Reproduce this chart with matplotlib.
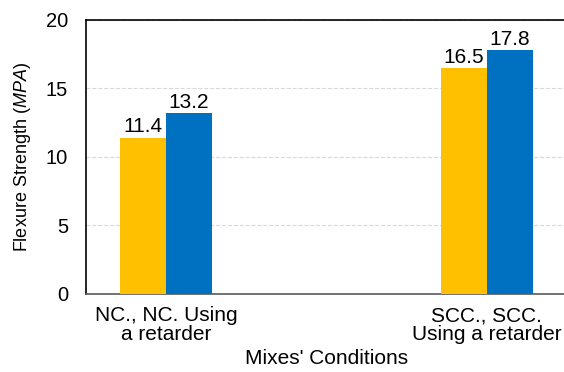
import matplotlib.pyplot as plt
import numpy as np

plt.rcParams['font.family'] = ['Liberation Sans', 'DejaVu Sans']
plt.rcParams['mathtext.fontset'] = 'custom'
plt.rcParams['mathtext.it'] = 'Liberation Sans:italic'
plt.rcParams['mathtext.rm'] = 'Liberation Sans'

# flexure strength of each mix
categories = ['NC., NC. Using\na retarder', 'SCC., SCC.\nUsing a retarder']
without_retarder = [11.4, 16.5]
with_retarder = [13.2, 17.8]

fig = plt.figure(figsize=(5.64, 3.72), dpi=100)
ax = fig.add_axes([0.1525, 0.2097, 0.8525, 0.7366])

x = np.arange(len(categories))
w = 0.143
b1 = ax.bar(x - w / 2, without_retarder, w, color='#FFC000', zorder=3)
b2 = ax.bar(x + w / 2, with_retarder, w, color='#0070C0', zorder=3)

for bars, vals in [(b1, without_retarder), (b2, with_retarder)]:
    for bar, v in zip(bars, vals):
        ax.annotate(f'{v:.1f}', (bar.get_x() + bar.get_width() / 2, v),
                    xytext=(0, 1), textcoords='offset points',
                    ha='center', va='bottom', fontsize=15)

ax.set_ylim(0, 20)
ax.set_yticks([0, 5, 10, 15, 20])
ax.set_xlim(-0.25, 1.25)
ax.set_xticks(x)
ax.set_xticklabels(categories, fontsize=15, linespacing=1.0)
ax.tick_params(axis='both', length=0)
ax.tick_params(axis='y', pad=13, labelsize=14.5)
ax.tick_params(axis='x', pad=9)

ax.yaxis.grid(True, linestyle='--', color='#d9d9d9', linewidth=0.8, zorder=0)

for s in ['left', 'top']:
    ax.spines[s].set_color('black')
    ax.spines[s].set_linewidth(1.2)
ax.spines['bottom'].set_color('#595959')
ax.spines['bottom'].set_linewidth(1.2)
ax.spines['right'].set_visible(False)

ax.set_xlabel("Mixes' Conditions", fontsize=15, labelpad=3)
ax.set_ylabel(r'Flexure Strength ($\mathit{MPA}$)', fontsize=13, labelpad=9)

fig.savefig('out.png', dpi=100)
